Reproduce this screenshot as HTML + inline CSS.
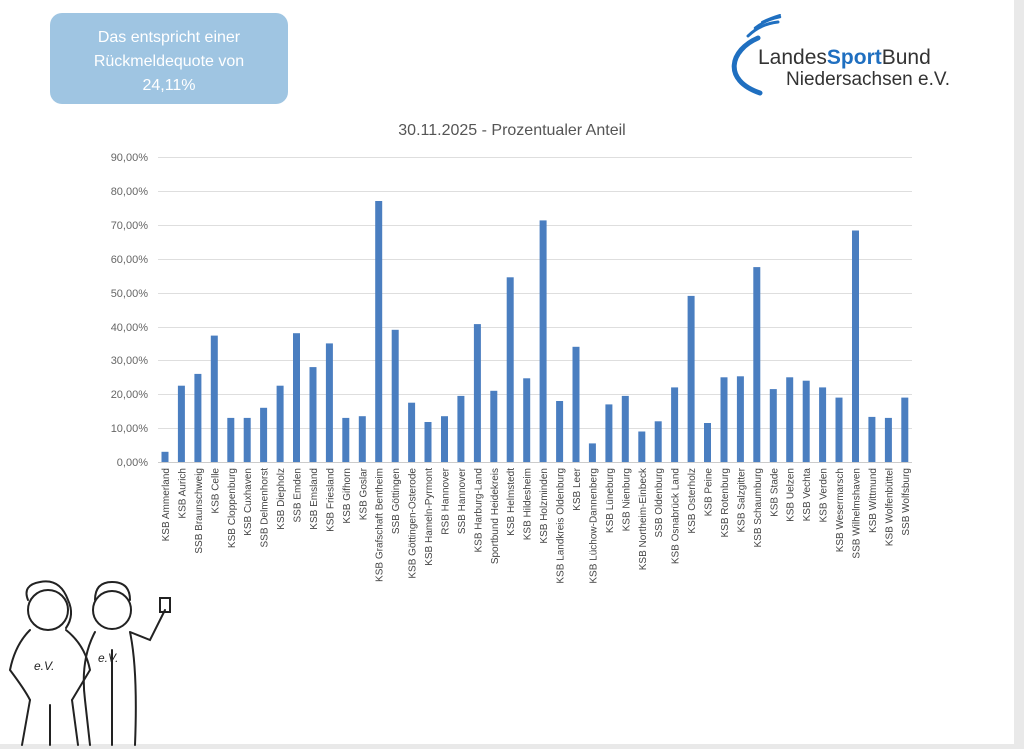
<!DOCTYPE html>
<html><head><meta charset="utf-8"><style>
body{margin:0;width:1024px;height:749px;background:#fff;overflow:hidden;font-family:"Liberation Sans",sans-serif;}
</style></head><body>
<svg width="1024" height="749" xmlns="http://www.w3.org/2000/svg" font-family="Liberation Sans, sans-serif">
<rect x="1014" y="0" width="10" height="749" fill="#e9e9e9"/>
<rect x="0" y="744" width="1024" height="5" fill="#e9e9e9"/>
<rect x="50" y="13" width="238" height="91" rx="12" fill="#9fc5e2"/>
<text fill="#fff" font-size="16" text-anchor="middle"><tspan x="169" y="42">Das entspricht einer</tspan><tspan x="169" y="66">Rückmeldequote von</tspan><tspan x="169" y="90">24,11%</tspan></text>
<!-- logo -->
<g fill="none" stroke="#1f6fc0" stroke-linecap="round">
<path d="M758 38 C730 50 722 80 760 93" stroke-width="5"/>
<path d="M748 36 Q760 24 778 22" stroke-width="3"/>
<path d="M755 28 Q765 20 780 17" stroke-width="2.5"/>
<path d="M762 22 Q770 18 780 15" stroke-width="2"/>
</g>
<text x="758" y="64" font-size="21" fill="#333">Landes<tspan fill="#1f6fc0" font-weight="bold">Sport</tspan>Bund</text>
<text x="786" y="85" font-size="19" fill="#333">Niedersachsen e.V.</text>
<text x="512" y="135" font-size="16" fill="#555" text-anchor="middle">30.11.2025 - Prozentualer Anteil</text>
<g stroke="#dedede" stroke-width="1">
<line x1="158" x2="912" y1="157.5" y2="157.5"/><line x1="158" x2="912" y1="191.5" y2="191.5"/><line x1="158" x2="912" y1="225.5" y2="225.5"/><line x1="158" x2="912" y1="259.5" y2="259.5"/><line x1="158" x2="912" y1="293.5" y2="293.5"/><line x1="158" x2="912" y1="327.5" y2="327.5"/><line x1="158" x2="912" y1="360.5" y2="360.5"/><line x1="158" x2="912" y1="394.5" y2="394.5"/><line x1="158" x2="912" y1="428.5" y2="428.5"/><line x1="158" x2="912" y1="462.5" y2="462.5" stroke="#ccc"/>
</g>
<g font-size="11" fill="#666" text-anchor="end">
<text x="148" y="161">90,00%</text><text x="148" y="195">80,00%</text><text x="148" y="229">70,00%</text><text x="148" y="263">60,00%</text><text x="148" y="297">50,00%</text><text x="148" y="331">40,00%</text><text x="148" y="364">30,00%</text><text x="148" y="398">20,00%</text><text x="148" y="432">10,00%</text><text x="148" y="466">0,00%</text>
</g>
<g transform="translate(0,462) scale(1,-1)" fill="#4a7ec0">
<rect x="161.5" y="0" width="7" height="10.2"/><rect x="177.9" y="0" width="7" height="76.3"/><rect x="194.4" y="0" width="7" height="88.1"/><rect x="210.8" y="0" width="7" height="126.4"/><rect x="227.3" y="0" width="7" height="44.1"/><rect x="243.7" y="0" width="7" height="44.1"/><rect x="260.1" y="0" width="7" height="54.2"/><rect x="276.6" y="0" width="7" height="76.3"/><rect x="293" y="0" width="7" height="128.8"/><rect x="309.5" y="0" width="7" height="94.9"/><rect x="325.9" y="0" width="7" height="118.6"/><rect x="342.3" y="0" width="7" height="44.1"/><rect x="358.8" y="0" width="7" height="45.8"/><rect x="375.2" y="0" width="7" height="261"/><rect x="391.7" y="0" width="7" height="132.2"/><rect x="408.1" y="0" width="7" height="59.3"/><rect x="424.5" y="0" width="7" height="40"/><rect x="441" y="0" width="7" height="45.8"/><rect x="457.4" y="0" width="7" height="66.1"/><rect x="473.9" y="0" width="7" height="137.9"/><rect x="490.3" y="0" width="7" height="71.2"/><rect x="506.7" y="0" width="7" height="184.7"/><rect x="523.2" y="0" width="7" height="83.7"/><rect x="539.6" y="0" width="7" height="241.6"/><rect x="556.1" y="0" width="7" height="61"/><rect x="572.5" y="0" width="7" height="115.2"/><rect x="588.9" y="0" width="7" height="18.6"/><rect x="605.4" y="0" width="7" height="57.6"/><rect x="621.8" y="0" width="7" height="66.1"/><rect x="638.3" y="0" width="7" height="30.5"/><rect x="654.7" y="0" width="7" height="40.7"/><rect x="671.1" y="0" width="7" height="74.6"/><rect x="687.6" y="0" width="7" height="166.1"/><rect x="704" y="0" width="7" height="39"/><rect x="720.5" y="0" width="7" height="84.7"/><rect x="736.9" y="0" width="7" height="85.7"/><rect x="753.3" y="0" width="7" height="194.9"/><rect x="769.8" y="0" width="7" height="72.9"/><rect x="786.2" y="0" width="7" height="84.7"/><rect x="802.7" y="0" width="7" height="81.3"/><rect x="819.1" y="0" width="7" height="74.6"/><rect x="835.5" y="0" width="7" height="64.4"/><rect x="852" y="0" width="7" height="231.5"/><rect x="868.4" y="0" width="7" height="45.1"/><rect x="884.9" y="0" width="7" height="44.1"/><rect x="901.3" y="0" width="7" height="64.4"/>
</g>
<g font-size="10" fill="#444" text-anchor="end">
<text transform="translate(169,468) rotate(-90)">KSB Ammerland</text>
<text transform="translate(185.4,468) rotate(-90)">KSB Aurich</text>
<text transform="translate(201.9,468) rotate(-90)">SSB Braunschweig</text>
<text transform="translate(218.3,468) rotate(-90)">KSB Celle</text>
<text transform="translate(234.8,468) rotate(-90)">KSB Cloppenburg</text>
<text transform="translate(251.2,468) rotate(-90)">KSB Cuxhaven</text>
<text transform="translate(267.6,468) rotate(-90)">SSB Delmenhorst</text>
<text transform="translate(284.1,468) rotate(-90)">KSB Diepholz</text>
<text transform="translate(300.5,468) rotate(-90)">SSB Emden</text>
<text transform="translate(317,468) rotate(-90)">KSB Emsland</text>
<text transform="translate(333.4,468) rotate(-90)">KSB Friesland</text>
<text transform="translate(349.8,468) rotate(-90)">KSB Gifhorn</text>
<text transform="translate(366.3,468) rotate(-90)">KSB Goslar</text>
<text transform="translate(382.7,468) rotate(-90)">KSB Grafschaft Bentheim</text>
<text transform="translate(399.2,468) rotate(-90)">SSB Göttingen</text>
<text transform="translate(415.6,468) rotate(-90)">KSB Göttingen-Osterode</text>
<text transform="translate(432,468) rotate(-90)">KSB Hameln-Pyrmont</text>
<text transform="translate(448.5,468) rotate(-90)">RSB Hannover</text>
<text transform="translate(464.9,468) rotate(-90)">SSB Hannover</text>
<text transform="translate(481.4,468) rotate(-90)">KSB Harburg-Land</text>
<text transform="translate(497.8,468) rotate(-90)">Sportbund Heidekreis</text>
<text transform="translate(514.2,468) rotate(-90)">KSB Helmstedt</text>
<text transform="translate(530.7,468) rotate(-90)">KSB Hildesheim</text>
<text transform="translate(547.1,468) rotate(-90)">KSB Holzminden</text>
<text transform="translate(563.6,468) rotate(-90)">KSB Landkreis Oldenburg</text>
<text transform="translate(580,468) rotate(-90)">KSB Leer</text>
<text transform="translate(596.4,468) rotate(-90)">KSB Lüchow-Dannenberg</text>
<text transform="translate(612.9,468) rotate(-90)">KSB Lüneburg</text>
<text transform="translate(629.3,468) rotate(-90)">KSB Nienburg</text>
<text transform="translate(645.8,468) rotate(-90)">KSB Northeim-Einbeck</text>
<text transform="translate(662.2,468) rotate(-90)">SSB Oldenburg</text>
<text transform="translate(678.6,468) rotate(-90)">KSB Osnabrück Land</text>
<text transform="translate(695.1,468) rotate(-90)">KSB Osterholz</text>
<text transform="translate(711.5,468) rotate(-90)">KSB Peine</text>
<text transform="translate(728,468) rotate(-90)">KSB Rotenburg</text>
<text transform="translate(744.4,468) rotate(-90)">KSB Salzgitter</text>
<text transform="translate(760.8,468) rotate(-90)">KSB Schaumburg</text>
<text transform="translate(777.3,468) rotate(-90)">KSB Stade</text>
<text transform="translate(793.7,468) rotate(-90)">KSB Uelzen</text>
<text transform="translate(810.2,468) rotate(-90)">KSB Vechta</text>
<text transform="translate(826.6,468) rotate(-90)">KSB Verden</text>
<text transform="translate(843,468) rotate(-90)">KSB Wesermarsch</text>
<text transform="translate(859.5,468) rotate(-90)">SSB Wilhelmshaven</text>
<text transform="translate(875.9,468) rotate(-90)">KSB Wittmund</text>
<text transform="translate(892.4,468) rotate(-90)">KSB Wolfenbüttel</text>
<text transform="translate(908.8,468) rotate(-90)">SSB Wolfsburg</text>
</g>
<!-- cartoon figures (approximate) -->
<g fill="none" stroke="#222" stroke-width="2" stroke-linecap="round">
<circle cx="48" cy="610" r="20"/>
<path d="M28 600 Q22 585 40 582 Q60 578 68 600 Q75 615 66 628"/>
<path d="M30 630 Q15 645 10 670 Q25 690 30 700 M66 630 Q85 645 90 670 Q78 690 72 700"/>
<path d="M30 700 L22 745 M72 700 L78 745 M50 705 L50 745"/>
<circle cx="112" cy="610" r="19"/>
<path d="M95 600 Q95 582 112 582 Q130 582 130 600"/>
<path d="M95 632 Q80 660 85 700 L90 745 M130 632 L150 640 L165 610 M160 598 L170 598 L170 612 L160 612 Z M130 632 Q138 670 135 745 M112 650 L112 745"/>
</g>
<text x="34" y="670" font-size="12" fill="#222" font-style="italic">e.V.</text>
<text x="98" y="662" font-size="12" fill="#222" font-style="italic">e.V.</text>
</svg>
</body></html>
